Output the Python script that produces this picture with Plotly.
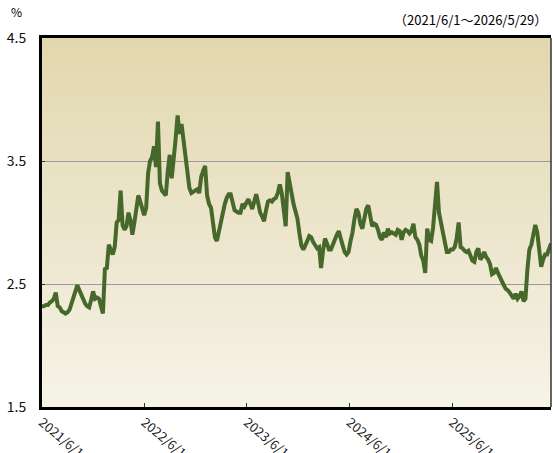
import pandas as pd
import plotly.graph_objects as go

# weekly observations starting 2021-06-01 (yield, %)
start_date = "2021-06-01"
values = [
    2.32, 2.32, 2.33, 2.33, 2.35, 2.36, 2.38, 2.43, 2.32, 2.31,
    2.28, 2.27, 2.26, 2.27, 2.29, 2.34, 2.39, 2.44, 2.49, 2.45,
    2.41, 2.37, 2.34, 2.32, 2.31, 2.37, 2.44, 2.38, 2.39, 2.38,
    2.33, 2.26, 2.62, 2.63, 2.82, 2.77, 2.74, 2.80, 3.00, 3.02,
    3.26, 2.98, 2.94, 2.97, 3.08, 3.02, 2.90, 3.00, 3.12, 3.22,
    3.17, 3.10, 3.06, 3.12, 3.40, 3.50, 3.53, 3.62, 3.45, 3.82,
    3.32, 3.26, 3.24, 3.22, 3.42, 3.55, 3.36, 3.50, 3.68, 3.87,
    3.72, 3.80, 3.68, 3.53, 3.43, 3.28, 3.24, 3.25, 3.26, 3.27,
    3.24, 3.37, 3.42, 3.46, 3.22, 3.15, 3.12, 3.00, 2.88, 2.85,
    2.93, 3.00, 3.07, 3.15, 3.20, 3.23, 3.23, 3.15, 3.10, 3.09,
    3.08, 3.08, 3.15, 3.13, 3.16, 3.19, 3.15, 3.11, 3.17, 3.23,
    3.16, 3.08, 3.05, 3.01, 3.10, 3.17, 3.18, 3.17, 3.19, 3.20,
    3.24, 3.31, 3.24, 3.12, 2.97, 3.41, 3.31, 3.22, 3.15, 3.09,
    3.03, 2.91, 2.81, 2.78, 2.81, 2.85, 2.89, 2.88, 2.84, 2.82,
    2.79, 2.80, 2.63, 2.77, 2.87, 2.83, 2.78, 2.78, 2.83, 2.86,
    2.90, 2.93, 2.87, 2.81, 2.76, 2.74, 2.76, 2.85, 2.92, 3.03,
    3.11, 3.08, 2.99, 2.95, 3.03, 3.11, 3.14, 3.04, 2.97, 2.99,
    2.98, 2.94, 2.88, 2.86, 2.92, 2.88, 2.95, 2.91, 2.92, 2.91,
    2.90, 2.94, 2.93, 2.86, 2.92, 2.94, 2.93, 2.91, 2.93, 2.99,
    2.88, 2.86, 2.82, 2.73, 2.69, 2.59, 2.95, 2.86, 2.85, 2.96,
    3.15, 3.33, 3.08, 3.00, 2.88, 2.81, 2.76, 2.76, 2.78, 2.78,
    2.80, 2.87, 3.00, 2.80, 2.79, 2.77, 2.76, 2.77, 2.73, 2.69,
    2.68, 2.76, 2.79, 2.70, 2.72, 2.76, 2.72, 2.70, 2.66, 2.58,
    2.59, 2.63, 2.59, 2.55, 2.51, 2.49, 2.46, 2.45, 2.43, 2.40,
    2.38, 2.42, 2.38, 2.40, 2.44, 2.36, 2.38, 2.62, 2.78, 2.82,
    2.92, 2.98, 2.92, 2.79, 2.64, 2.70, 2.74, 2.74, 2.80, 2.83,
]
dates = pd.date_range(start_date, periods=len(values), freq="7D")

x_range = ["2021-06-01", "2026-05-19"]
y_range = [1.5, 4.5]
y_ticks = [1.5, 2.5, 3.5, 4.5]
y_ticktext = ["1.5", "2.5", "3.5", "4.5"]
x_tickvals = ["2021-06-01", "2022-06-01", "2023-06-01", "2024-06-01", "2025-06-01"]
x_ticktext = ["2021/6/1", "2022/6/1", "2023/6/1", "2024/6/1", "2025/6/1"]
unit_label = "%"
period_label = "（2021/6/1～2026/5/29）"

FONT = "Noto Sans CJK JP, Noto Sans, sans-serif"

fig = go.Figure()
fig.add_trace(go.Scatter(
    x=dates, y=values, mode="lines",
    line=dict(color="#46682A", width=4),
    hoverinfo="skip",
))

# vertical gradient background
top_c = (226, 215, 174)
bot_c = (246, 243, 232)
n_bands = 74
shapes = []
for i in range(n_bands):
    t = i / (n_bands - 1)
    c = tuple(round(bot_c[j] + (top_c[j] - bot_c[j]) * t) for j in range(3))
    shapes.append(dict(
        type="rect", xref="paper", yref="paper",
        x0=0, x1=1, y0=i / n_bands, y1=(i + 1) / n_bands + 0.002,
        fillcolor="rgb(%d,%d,%d)" % c, line=dict(width=0), layer="below",
    ))
# thin right border
shapes.append(dict(type="line", xref="paper", yref="paper", x0=1, x1=1, y0=0, y1=1,
                   line=dict(color="#333333", width=1.5), layer="above"))

fig.update_layout(
    width=553, height=453,
    margin=dict(l=42, r=2, t=38, b=46, autoexpand=False),
    paper_bgcolor="white", plot_bgcolor="rgba(0,0,0,0)",
    showlegend=False,
    shapes=shapes,
    font=dict(family=FONT, color="#000000"),
    xaxis=dict(
        type="date", range=x_range, automargin=False,
        tickvals=x_tickvals, ticktext=x_ticktext, tickangle=40,
        ticks="inside", ticklen=4, tickcolor="#333333", tickwidth=1,
        showgrid=False, zeroline=False,
        showline=True, linecolor="#000000", linewidth=3, mirror=True,
        tickfont=dict(size=13, family=FONT, color="#222222"),
    ),
    yaxis=dict(
        range=y_range, tickvals=y_ticks, ticktext=y_ticktext, automargin=False,
        ticks="inside", ticklen=3, tickcolor="#333333",
        showgrid=True, gridcolor="#9a9a9a", gridwidth=1,
        zeroline=False,
        showline=True, linecolor="#000000", linewidth=3,
        tickfont=dict(size=14, family=FONT, color="#111111"),
        ticklabelstandoff=10,
    ),
    annotations=[
        dict(text=unit_label, xref="paper", yref="paper", x=-0.051, y=1.0705,
             xanchor="center", yanchor="middle", showarrow=False,
             font=dict(size=12, family=FONT, color="#000000")),
        dict(text=period_label, xref="paper", yref="paper", x=0.997, y=1.049,
             xanchor="right", yanchor="middle", showarrow=False,
             font=dict(size=13, family=FONT, color="#000000")),
    ],
)

fig.write_html(
    "out.html",
    config={"displayModeBar": False, "staticPlot": True},
    post_script="document.body.style.margin='0';document.body.style.overflow='hidden';",
)
